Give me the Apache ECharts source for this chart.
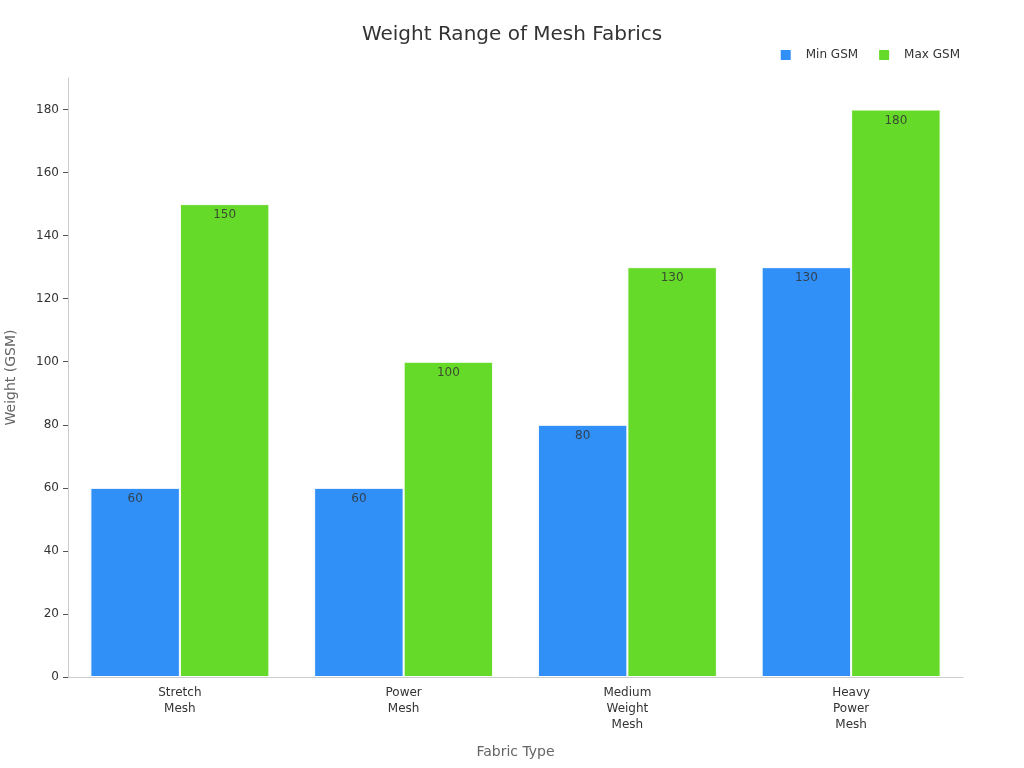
<!DOCTYPE html>
<html>
<head>
<meta charset="utf-8">
<script src="https://cdn.jsdelivr.net/npm/echarts@6/dist/echarts.min.js"></script>
<style>
  html, body { margin: 0; padding: 0; background: #fff; }
  #chart { width: 1024px; height: 768px; }
</style>
</head>
<body>
<div id="chart"></div>
<script>
var categories = ['Stretch\nMesh', 'Power\nMesh', 'Medium\nWeight\nMesh', 'Heavy\nPower\nMesh'];
var minGsm = [60, 60, 80, 130];
var maxGsm = [150, 100, 130, 180];
var yTicks = [0, 20, 40, 60, 80, 100, 120, 140, 160, 180];

var chart = echarts.init(document.getElementById('chart'));
var font = 'DejaVu Sans';

chart.setOption({
    textStyle: { fontFamily: font },
    title: {
        text: 'Weight Range of Mesh Fabrics',
        left: 'center',
        top: 20,
        textStyle: { fontSize: 20, fontWeight: 'normal', color: '#333', fontFamily: font }
    },
    legend: {
        data: ['Min GSM', 'Max GSM'],
        right: 59,
        top: 43,
        icon: 'rect',
        itemWidth: 12,
        itemHeight: 12,
        itemGap: 19,
        textStyle: { fontSize: 12, color: '#333', fontFamily: font, padding: [0, 0, 0, 9] }
    },
    grid: { left: 68, right: 61, top: 78, bottom: 91, outerBoundsMode: 'none' },
    xAxis: {
        type: 'category',
        data: categories,
        name: 'Fabric Type',
        nameLocation: 'middle',
        nameGap: 68,
        nameTextStyle: { fontSize: 14, color: '#666', fontFamily: font },
        axisLine: { lineStyle: { color: '#ccc' } },
        axisTick: { alignWithLabel: true, lineStyle: { color: '#999' } },
        axisLabel: { fontSize: 12, color: '#333', lineHeight: 16, interval: 0 }
    },
    yAxis: {
        type: 'value',
        min: 0,
        max: 190,
        interval: 20,
        name: 'Weight (GSM)',
        nameLocation: 'middle',
        nameGap: 50,
        nameTextStyle: { fontSize: 14, color: '#666', fontFamily: font },
        axisLine: { show: true, lineStyle: { color: '#ccc' } },
        axisTick: { show: true, length: 5, customValues: yTicks, lineStyle: { color: '#555' } },
        axisLabel: { fontSize: 12, color: '#333', margin: 9, customValues: yTicks },
        splitLine: { show: false }
    },
    series: [
        {
            name: 'Min GSM',
            type: 'bar',
            data: minGsm,
            barGap: '0%',
            barCategoryGap: '20%',
            itemStyle: { color: '#3090f7', borderColor: '#fff', borderWidth: 1 },
            label: { show: true, position: 'insideTop', distance: 5, color: '#333', fontSize: 12, opacity: 0.85 }
        },
        {
            name: 'Max GSM',
            type: 'bar',
            data: maxGsm,
            barGap: '0%',
            barCategoryGap: '20%',
            itemStyle: { color: '#66da29', borderColor: '#fff', borderWidth: 1 },
            label: { show: true, position: 'insideTop', distance: 5, color: '#333', fontSize: 12, opacity: 0.85 }
        }
    ]
});
</script>
</body>
</html>
